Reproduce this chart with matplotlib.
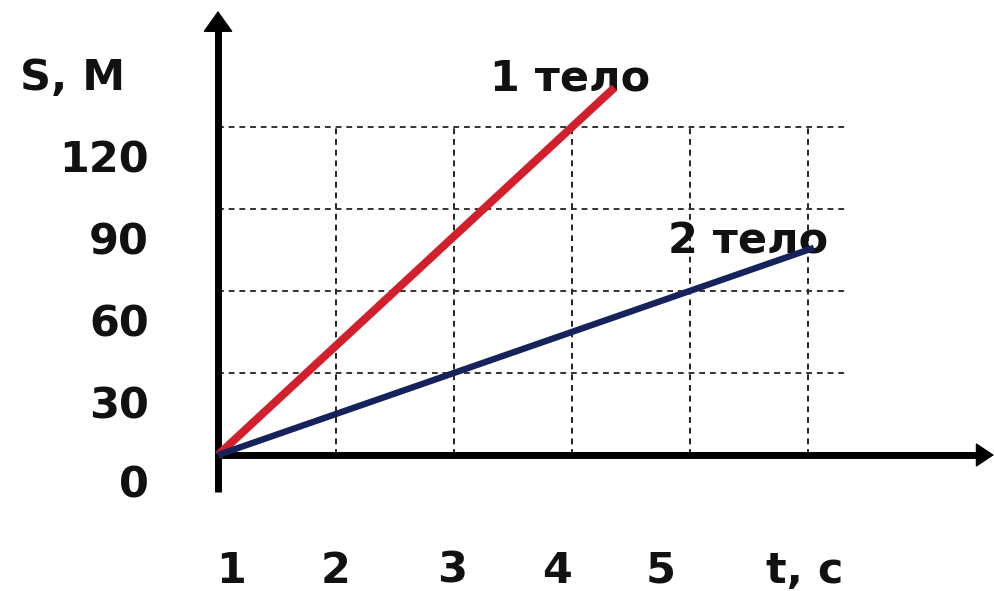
import matplotlib
matplotlib.use('Agg')
import matplotlib.pyplot as plt

# lines: s = v * t, drawn from the origin
t_body1 = [0.0, 3.36]
s_body1 = [0.0, 134.4]
t_body2 = [0.0, 5.05]
s_body2 = [0.0, 75.8]

# grid
grid_t = [1, 2, 3, 4, 5]
grid_s = [30, 60, 90, 120]

# tick labels (as printed on the picture, slightly off the grid)
y_labels = ['0', '30', '60', '90', '120']
y_label_s = [-15.7, 13.5, 43.5, 73.5, 103.5]
x_labels = ['1', '2', '3', '4', '5', 't, c']
x_label_t = [0.11, 1.0, 1.98, 2.87, 3.75, 4.97]

# pixel scale of the original picture: 118 px per second, 82 px per 30 m
px_t = 118.0
px_s = 82.0 / 30.0

W, H = 994, 591
fig = plt.figure(figsize=(W / 100, H / 100), dpi=100)
ax = fig.add_axes([0, 0, 1, 1])
ax.set_xlim(-218 / px_t, (W - 218) / px_t)
ax.set_ylim(-(H - 455) / px_s, 455 / px_s)
ax.axis('off')

font = dict(family='DejaVu Sans', weight='bold', color='#111111', fontsize=31)

# dashed grid
for t in grid_t:
    ax.plot([t, t], [0, grid_s[-1]], color='#222222', lw=1.4, dashes=(3, 2.5), zorder=1)
for s in grid_s:
    ax.plot([0, 630 / px_t], [s, s], color='#333333', lw=1.4, dashes=(3, 2.5), zorder=1)

# axes: shafts plus sharp arrow heads
y_top = 442 / px_s
x_right = (W - 218) / px_t
ax.plot([0, 0], [-37 / px_s, y_top - 16 / px_s], color='black', lw=5, solid_capstyle='butt', zorder=3)
ax.plot([-3 / px_t, x_right - 14 / px_t], [0, 0], color='black', lw=5, solid_capstyle='butt', zorder=3)
head_y = dict(arrowstyle='-|>,head_length=14,head_width=10', mutation_scale=1,
              lw=0.8, color='black', shrinkA=0, shrinkB=0, joinstyle='miter')
head_x = dict(arrowstyle='-|>,head_length=12,head_width=8', mutation_scale=1,
              lw=0.8, color='black', shrinkA=0, shrinkB=0, joinstyle='miter')
ax.annotate('', xy=(0, y_top + 2 / px_s), xytext=(0, y_top - 20 / px_s), arrowprops=head_y, zorder=3)
ax.annotate('', xy=(x_right, 0), xytext=(x_right - 20 / px_t, 0), arrowprops=head_x, zorder=3)

# data lines
ax.plot(t_body1, s_body1, color='#d1202b', lw=5.8, solid_capstyle='butt', zorder=4)
ax.plot(t_body2, s_body2, color='#16225c', lw=4.6, solid_capstyle='butt', zorder=5)

# labels
ax.text(-1.678, 133.5, 'S, M', ha='left', va='baseline', **font)
ax.text(2.305, 133.5, '1 тело', ha='left', va='baseline', zorder=2, **font)
ax.text(3.81, 73.9, '2 тело', ha='left', va='baseline', zorder=2, **font)

for lab, s in zip(y_labels, y_label_s):
    ax.text(-0.585, s, lab, ha='right', va='baseline', **font)
for lab, t in zip(x_labels, x_label_t):
    ax.text(t, -46.8, lab, ha='center', va='baseline', **font)

fig.savefig('out.png', dpi=100, facecolor='white')
plt.close()
